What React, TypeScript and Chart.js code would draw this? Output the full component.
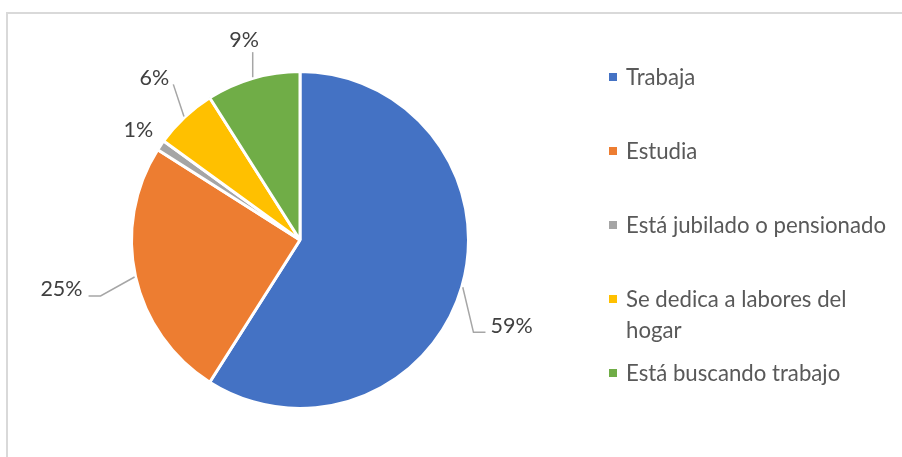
import React, { useEffect, useRef } from 'react';
import { Chart, registerables } from 'chart.js';

Chart.register(...registerables);

const categories = [
  'Trabaja',
  'Estudia',
  'Está jubilado o pensionado',
  'Se dedica a labores del hogar',
  'Está buscando trabajo',
];
const values = [59, 25, 1, 6, 9];
const percentLabels = ['59%', '25%', '1%', '6%', '9%'];
const colors = ['#4472C4', '#ED7D31', '#A5A5A5', '#FFC000', '#70AD47'];

const FONT = 'Lato, "Noto Sans", sans-serif';

// label placement relative to each slice's mid angle
const labelLayout = [
  { extra: 60, shift: 6, leader: 'right-elbow' },
  { extra: 75, shift: 1, leader: 'left-elbow' },
  { extra: 27, shift: 0, leader: 'none' },
  { extra: 49, shift: 1.2, leader: 'corner' },
  { extra: 39, shift: 0.6, leader: 'vertical' },
];

const decorPlugin = {
  id: 'decor',
  beforeDraw(chart: any) {
    const ctx = chart.ctx;
    ctx.save();
    ctx.fillStyle = '#ffffff';
    ctx.fillRect(0, 0, chart.width, chart.height);
    ctx.strokeStyle = '#d9d9d9';
    ctx.lineWidth = 2;
    ctx.beginPath();
    ctx.moveTo(7, chart.height + 2);
    ctx.lineTo(7, 13);
    ctx.lineTo(chart.width + 2, 13);
    ctx.stroke();
    ctx.restore();
  },
  afterDatasetsDraw(chart: any) {
    const ctx = chart.ctx;
    const meta = chart.getDatasetMeta(0);
    ctx.save();
    const labelSize = 21.5;
    ctx.font = `${labelSize}px ${FONT}`;
    ctx.textBaseline = 'middle';
    ctx.textAlign = 'center';
    meta.data.forEach((arc: any, i: number) => {
      const p = arc.getProps(['x', 'y', 'startAngle', 'endAngle', 'outerRadius'], true);
      const mid = (p.startAngle + p.endAngle) / 2;
      const lay = labelLayout[i];
      const a = mid + (lay.shift * Math.PI) / 180;
      const d = p.outerRadius + lay.extra;
      const tx = p.x + d * Math.cos(a);
      const ty = p.y + d * Math.sin(a);
      const text = percentLabels[i];
      const w = ctx.measureText(text).width;
      const sx = p.x + (p.outerRadius + 1) * Math.cos(mid);
      const sy = p.y + (p.outerRadius + 1) * Math.sin(mid);
      ctx.strokeStyle = '#a6a6a6';
      ctx.lineWidth = 1.5;
      ctx.beginPath();
      if (lay.leader === 'right-elbow') {
        const ex = tx - w / 2 - 5;
        const ey = ty + 6;
        ctx.moveTo(sx, sy);
        ctx.lineTo(ex - 12, ey);
        ctx.lineTo(ex, ey);
      } else if (lay.leader === 'left-elbow') {
        const ex = tx + w / 2 + 6;
        const ey = ty + 7;
        ctx.moveTo(sx, sy);
        ctx.lineTo(ex + 12, ey);
        ctx.lineTo(ex, ey);
      } else if (lay.leader === 'corner') {
        ctx.moveTo(sx, sy);
        ctx.lineTo(tx + w / 2 + 4, ty + 6);
      } else if (lay.leader === 'vertical') {
        ctx.moveTo(sx, sy);
        ctx.lineTo(sx, ty + 12);
      }
      ctx.stroke();
      ctx.fillStyle = '#404040';
      ctx.fillText(text, tx, ty);
    });

    // legend
    const legendSize = 22.2;
    ctx.font = `${legendSize}px ${FONT}`;
    ctx.textAlign = 'left';
    const textX = 626;
    const maxW = 266;
    categories.forEach((label, i) => {
      const cy = 77 + 74 * i;
      ctx.fillStyle = colors[i];
      ctx.fillRect(609, cy - 4, 8, 8);
      const words = label.split(' ');
      const lines: string[] = [];
      let cur = '';
      words.forEach((wd) => {
        const test = cur ? cur + ' ' + wd : wd;
        if (ctx.measureText(test).width > maxW && cur) {
          lines.push(cur);
          cur = wd;
        } else cur = test;
      });
      if (cur) lines.push(cur);
      ctx.fillStyle = '#595959';
      lines.forEach((ln, j) => ctx.fillText(ln, textX, cy + 1 + 31 * j));
    });
    ctx.restore();
  },
};

export default function App() {
  const ref = useRef<HTMLCanvasElement | null>(null);
  useEffect(() => {
    if (!ref.current) return;
    const chart = new Chart(ref.current, {
      type: 'pie',
      data: {
        labels: categories,
        datasets: [
          {
            data: values,
            backgroundColor: colors,
            borderColor: '#ffffff',
            borderWidth: 3,
          },
        ],
      },
      options: {
        responsive: false,
        animation: false,
        rotation: 0,
        layout: { padding: { left: 130, right: 432, top: 70, bottom: 47 } },
        plugins: {
          legend: { display: false },
          tooltip: { enabled: false },
        },
      },
      plugins: [decorPlugin],
    });
    return () => chart.destroy();
  }, []);
  return (
    <div style={{ position: 'fixed', left: 0, top: 0, width: 902, height: 457, background: '#fff' }}>
      <canvas ref={ref} width={902} height={457} style={{ display: 'block', width: 902, height: 457 }} />
    </div>
  );
}
